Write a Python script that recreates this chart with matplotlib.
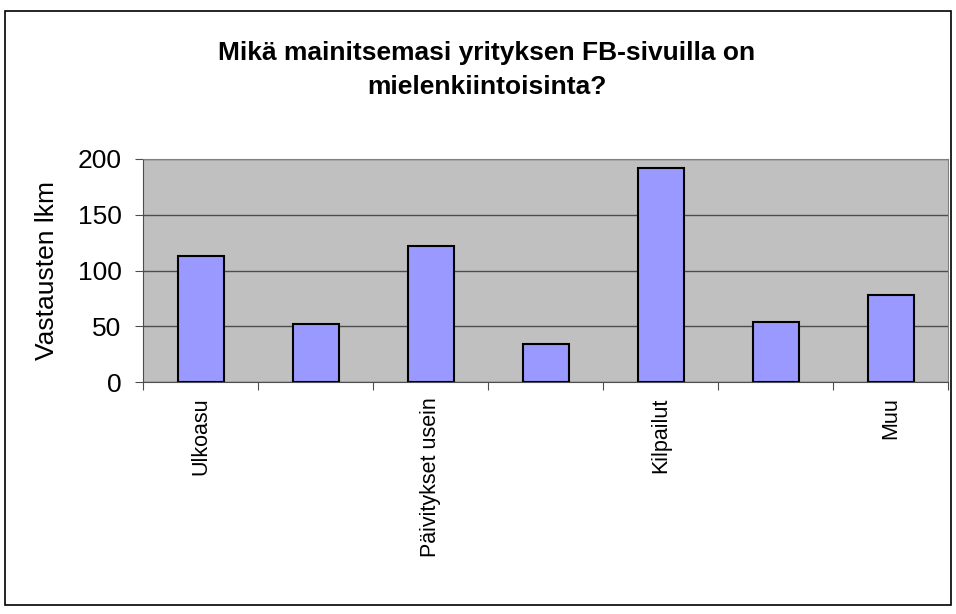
import numpy as np
import matplotlib.pyplot as plt
from matplotlib.patches import Rectangle

plt.rcParams['font.family'] = ['Liberation Sans', 'DejaVu Sans']

# every second label is hidden in the source chart
categories = ["Ulkoasu", "", "Päivitykset usein", "", "Kilpailut", "", "Muu"]
values = [113, 52, 122, 34, 192, 54, 78]
yticks = [0, 50, 100, 150, 200]

W, H = 956, 614
fig = plt.figure(figsize=(W / 100, H / 100), dpi=100)
fig.patch.set_facecolor('white')

# outer chart border
fig.patches.append(Rectangle((5 / W, 1 - 605 / H), 946 / W, 594 / H,
                             transform=fig.transFigure, fill=False,
                             edgecolor='black', linewidth=1.2))

ax = fig.add_axes([143 / W, 1 - 382 / H, 805 / W, 223 / H])
ax.set_facecolor('#c0c0c0')
x = np.arange(len(values))
ax.bar(x, values, width=0.4, color='#9999ff', edgecolor='black', linewidth=1.5, zorder=3)
ax.set_xlim(-0.5, len(values) - 0.5)
ax.set_ylim(0, 200)
ax.set_yticks(yticks)
ax.set_yticklabels([str(v) for v in yticks], fontsize=19)
ax.yaxis.grid(True, color='#4d4d4d', linewidth=1, zorder=1)

# ticks at category boundaries, labels at centres
ax.set_xticks(np.arange(len(values) + 1) - 0.5)
ax.set_xticklabels([])
ax.tick_params(axis='x', length=6, color='#4d4d4d')
ax.tick_params(axis='y', length=6, color='#4d4d4d', pad=9.5)
for i, lab in enumerate(categories):
    ax.text(i, -14, lab, rotation=90, ha='center', va='top', fontsize=15.5)

for s in ax.spines.values():
    s.set_color('#808080')
ax.spines['bottom'].set_color('#4d4d4d')
ax.spines['left'].set_color('#4d4d4d')

fig.text(47 / W, 1 - 270 / H, 'Vastausten lkm', rotation=90, ha='center', va='center', fontsize=19)

fig.text(487 / W, 1 - 70 / H, 'Mikä mainitsemasi yrityksen FB-sivuilla on\nmielenkiintoisinta?',
         ha='center', va='center', fontsize=19, fontweight='bold', linespacing=1.55)

fig.savefig('out.png', dpi=100)
